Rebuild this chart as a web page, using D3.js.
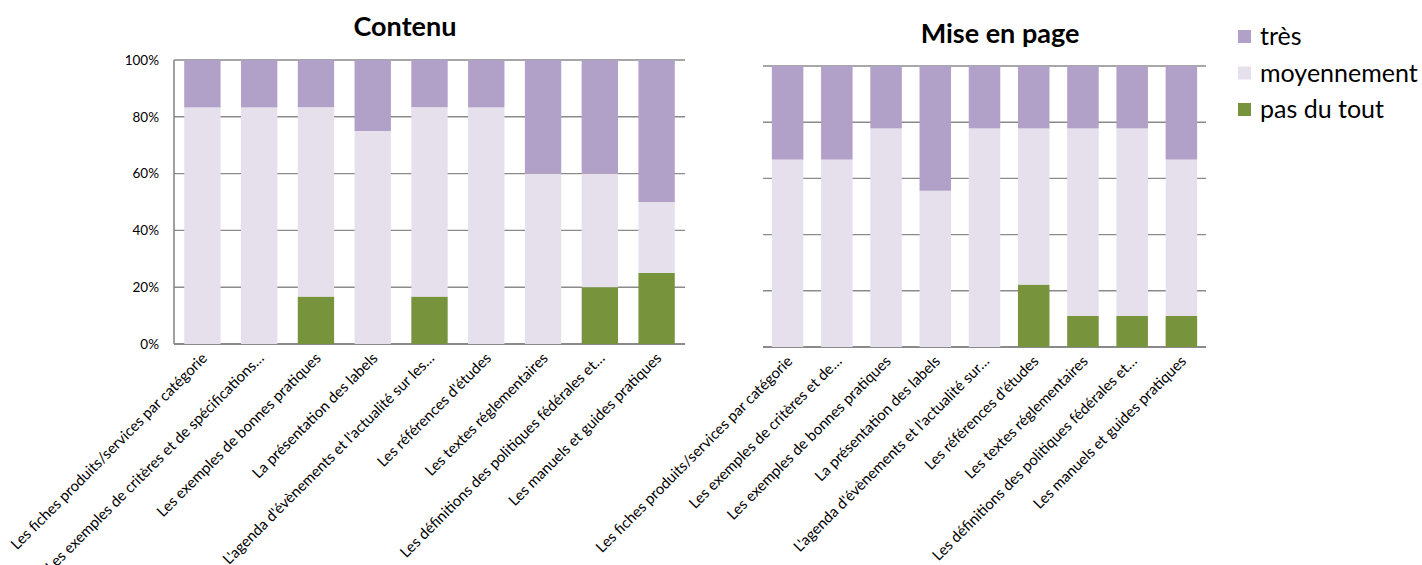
<!DOCTYPE html>
<html><head><meta charset="utf-8">
<script src="https://cdn.jsdelivr.net/npm/d3@7"></script>
<style>body{margin:0;background:#fff}svg{display:block}text{font-family:Lato,"Open Sans",sans-serif}</style>
</head><body><svg id="c" width="1422" height="565"></svg>
<script>
const categoriesContenu = [
  "Les fiches produits/services par catégorie",
  "Les exemples de critères et de spécifications…",
  "Les exemples de bonnes pratiques",
  "La présentation des labels",
  "L'agenda d'évènements et l'actualité sur les…",
  "Les références d'études",
  "Les textes réglementaires",
  "Les définitions des politiques fédérales et…",
  "Les manuels et guides pratiques"
];
const categoriesMise = [
  "Les fiches produits/services par catégorie",
  "Les exemples de critères et de…",
  "Les exemples de bonnes pratiques",
  "La présentation des labels",
  "L'agenda d'évènements et l'actualité sur…",
  "Les références d'études",
  "Les textes réglementaires",
  "Les définitions des politiques fédérales et…",
  "Les manuels et guides pratiques"
];
const seriesNames = ["pas du tout", "moyennement", "très"];
const contenuPas  = [0, 0, 16.7, 0, 16.7, 0, 0, 20, 25];
const contenuMoy  = [83.3, 83.3, 66.7, 75, 66.7, 83.3, 60, 40, 25];
const contenuTres = [16.7, 16.7, 16.7, 25, 16.7, 16.7, 40, 40, 50];
const misePas  = [0, 0, 0, 0, 0, 22.2, 11.1, 11.1, 11.1];
const miseMoy  = [66.7, 66.7, 77.8, 55.6, 77.8, 55.6, 66.7, 66.7, 55.6];
const miseTres = [33.3, 33.3, 22.2, 44.4, 22.2, 22.2, 22.2, 22.2, 33.3];
const yTicks = [0, 20, 40, 60, 80, 100];
const legendOrder = ["très", "moyennement", "pas du tout"];

const colors = {"pas du tout": "#77933C", "moyennement": "#E6E0EC", "très": "#B1A0C7"};
const gridColor = "#8a8a8a";
const svg = d3.select("#c");

function drawChart(opt) {
  const {cats, pas, moy, tres, x0, x1, yTop, yBot, title, titleX, titleY, showY} = opt;
  const rows = cats.map((c, i) => ({cat: c, "pas du tout": pas[i], "moyennement": moy[i], "très": tres[i]}));
  const stack = d3.stack().keys(seriesNames)(rows);
  const x = d3.scaleBand().domain(cats.map((c, i) => i)).range([x0, x1]).paddingInner(0.36).paddingOuter(0.18);
  const y = d3.scaleLinear().domain([0, 100]).range([yBot, yTop]);
  const g = svg.append("g");
  g.selectAll(".grid").data(yTicks).join("line")
    .attr("x1", x0).attr("x2", x1)
    .attr("y1", d => y(d)).attr("y2", d => y(d))
    .attr("stroke", gridColor).attr("stroke-width", d => d === 0 ? 2 : 1.4);
  if (showY) {
    g.append("line").attr("x1", x0).attr("x2", x0).attr("y1", yTop).attr("y2", yBot)
      .attr("stroke", gridColor).attr("stroke-width", 1.6);
    const ax = d3.axisLeft(y).tickValues(yTicks).tickFormat(d => d + "%").tickSize(0).tickPadding(15);
    const axg = g.append("g").attr("transform", `translate(${x0},0)`).call(ax);
    axg.select(".domain").remove();
    axg.selectAll("text").attr("font-size", 13.5).attr("fill", "#000").style("font-family", "Lato,sans-serif");
  }
  g.selectAll(".layer").data(stack).join("g")
    .attr("fill", d => colors[d.key])
    .selectAll("rect").data(d => d).join("rect")
    .attr("x", (d, i) => x(i)).attr("width", x.bandwidth())
    .attr("y", d => y(d[1])).attr("height", d => Math.max(0, y(d[0]) - y(d[1])));
  g.selectAll(".lab").data(cats).join("text")
    .attr("transform", (d, i) => `translate(${x(i) + x.bandwidth() / 2},${yBot + 5}) rotate(-45)`)
    .attr("text-anchor", "end").attr("dx", -3).attr("dy", "0.75em")
    .attr("font-size", 15).attr("fill", "#000").text(d => d);
  svg.append("text").attr("x", titleX).attr("y", titleY).attr("text-anchor", "middle")
    .attr("font-size", 27).attr("font-weight", "bold").attr("fill", "#000").text(title);
}

drawChart({cats: categoriesContenu, pas: contenuPas, moy: contenuMoy, tres: contenuTres,
  x0: 174, x1: 685, yTop: 60, yBot: 344, title: "Contenu", titleX: 405, titleY: 36, showY: true});
drawChart({cats: categoriesMise, pas: misePas, moy: miseMoy, tres: miseTres,
  x0: 763, x1: 1206, yTop: 66, yBot: 347, title: "Mise en page", titleX: 1000, titleY: 43, showY: false});

const lg = svg.append("g");
legendOrder.forEach((k, i) => {
  const yy = 37 + i * 36.5;
  lg.append("rect").attr("x", 1238).attr("y", yy - 7).attr("width", 13).attr("height", 13).attr("fill", colors[k]);
  lg.append("text").attr("x", 1260).attr("y", yy + 8).attr("font-size", 25).attr("fill", "#000").text(k);
});
</script></body></html>
